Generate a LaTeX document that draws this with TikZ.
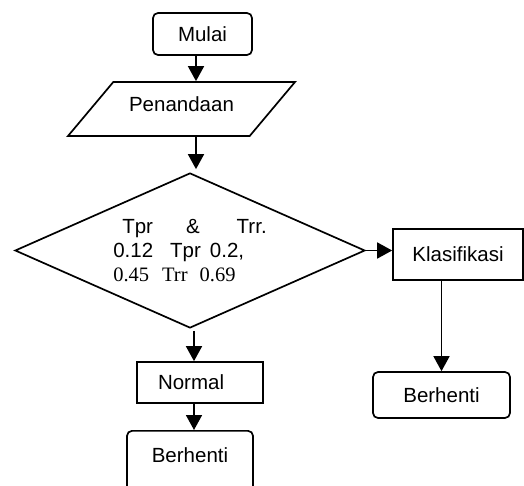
\documentclass[tikz,border=0pt]{standalone}
\usepackage{fontspec}
\setmainfont{Liberation Sans}
\newfontfamily\timesfont{Liberation Serif}
\usetikzlibrary{arrows.meta, shapes.geometric}

\begin{document}
\begin{tikzpicture}[
    x=1pt, y=-1pt,
    font=\fontsize{20.5}{24}\selectfont,
    terminal/.style={
      draw,
      rounded corners=5pt,
      line width=1.7pt,
      inner sep=0pt
    },
    process/.style={
      draw,
      line width=1.7pt,
      inner sep=0pt
    },
    io/.style={
      draw,
      trapezium,
      trapezium left angle=50,
      trapezium right angle=130,
      trapezium stretches body,
      line width=1.7pt,
      inner sep=0pt
    },
    decision/.style={
      draw,
      diamond,
      aspect=2.26,
      align=left,
      line width=1.7pt,
      inner sep=0pt,
      minimum width=350pt,
      minimum height=155pt
    },
    line/.style={-{Triangle[length=15pt, width=16pt]}, line width=1.7pt}
  ]

  \useasboundingbox (0,0) rectangle (524,486);
  \clip (0,0) rectangle (524,486);

  % ===================== alur utama =====================
  \node[terminal, minimum width=99pt, minimum height=42pt] (mulai) at (202.5,34) {Mulai};
  \node[io, minimum width=227pt, minimum height=54pt, text height=30pt, text depth=24pt] (penandaan) at (181.5,109) {Penandaan};
  \node[decision] (syarat) at (190,250.5) {\hspace*{9pt}Tpr\hspace{33pt}\&\hspace{37pt}Trr.\\
    0.12\hspace{17pt}Tpr\hspace{9pt}0.2,\\
    {\timesfont 0.45\hspace{13pt}Trr\hspace{12pt}0.69}};

  % ===================== cabang kanan =====================
  \node[process, minimum width=130pt, minimum height=51pt] (klasifikasi) at (458,254.5) {Klasifikasi};
  \node[terminal, minimum width=137pt, minimum height=46pt] (berhentiB) at (441.5,395) {Berhenti};

  % ===================== cabang bawah =====================
  \node[process, minimum height=41pt, inner xsep=21pt, text width=84pt, align=left] (normal) at (200,382.5) {Normal};
  \node[terminal, minimum width=126pt, text height=32pt, text depth=40pt, anchor=north] (berhentiA) at (190,430) {Berhenti};

  % ===================== panah =====================
  \coordinate (sumbu) at (196,0);
  \coordinate (sumbuB) at (194,0);
  \draw[line] (mulai.south -| sumbu) -- (penandaan.north -| sumbu);
  \draw[line] (penandaan.south -| sumbu) -- ([yshift=3pt]syarat.north -| sumbu);
  \draw[line] (syarat.east) -- (syarat.east -| klasifikasi.west);
  \draw[line] (klasifikasi.south -| berhentiB.north) -- (berhentiB.north);
  \draw[line] ([yshift=-2pt]syarat.south -| sumbuB) -- (normal.north -| sumbuB);
  \draw[line] (normal.south -| sumbuB) -- (berhentiA.north -| sumbuB);

\end{tikzpicture}
\end{document}
